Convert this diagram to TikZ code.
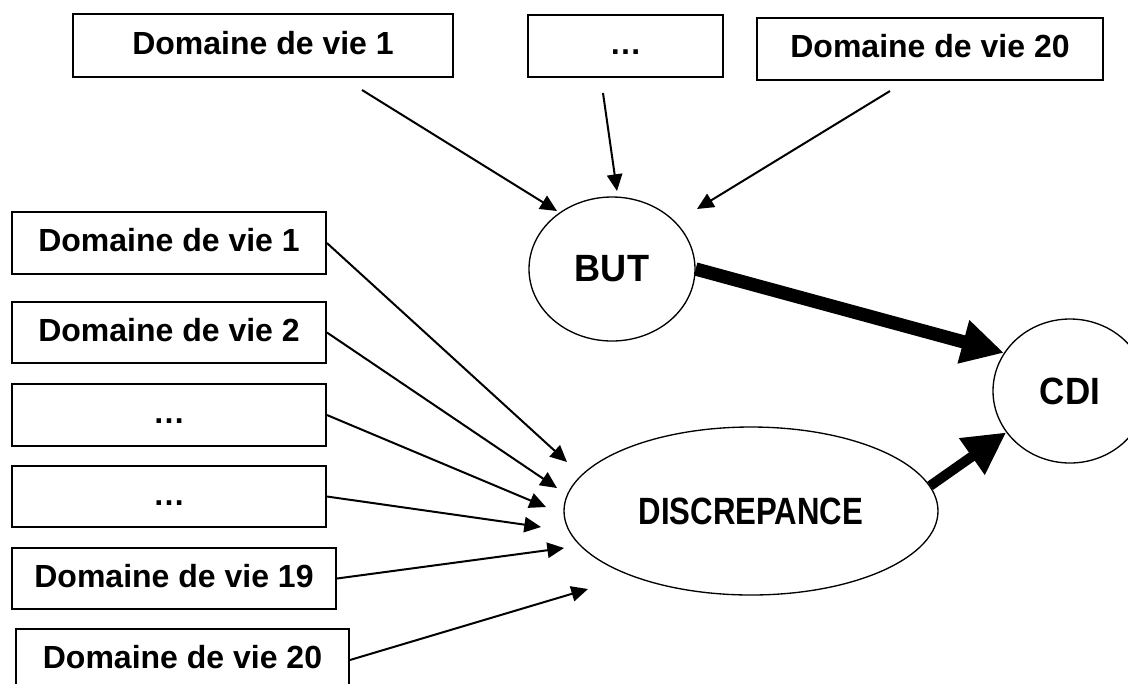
\documentclass[tikz,border=0pt]{standalone}
\usepackage{fontspec}
\setmainfont{Liberation Sans}
\usepackage{graphicx}
\usetikzlibrary{arrows.meta,shapes.geometric}

% one unit = one pixel of a 1128 x 683 canvas, y pointing down
\tikzset{
  size/.style 2 args={minimum width={#1*0.75pt}, minimum height={#2*0.75pt}},
  lifebox/.style={draw, rectangle, line width=1.4pt, inner sep=0pt,
    text height=12.75pt, text depth=0pt,
    font=\bfseries\fontsize{24}{28}\selectfont},
  bubble/.style={draw, ellipse, line width=1pt, inner sep=0pt,
    font=\bfseries\fontsize{28.5}{32}\selectfont},
  feed/.style={line width=1.5pt, -{Triangle[length=12.5pt, width=11.5pt]}},
  push/.style={-{Triangle[length=31.5pt, width=31.5pt]}},
}

\begin{document}
\begin{tikzpicture}[x=0.75pt, y=-0.75pt]
\useasboundingbox (0,0) rectangle (1128,683);
\clip (0,0) rectangle (1128,683);

% life domains feeding the goal
\node[lifebox, size={380}{63}] (tb1) at (263,45.5) {Domaine de vie 1};
\node[lifebox, size={195}{62}] (tb2) at (625.5,46) {…};
\node[lifebox, size={346}{62}] (tb3) at (930,49) {Domaine de vie 20};

% life domains feeding the discrepancy
\node[lifebox, size={314}{62}] (lb1) at (169,243) {Domaine de vie 1};
\node[lifebox, size={314}{61}] (lb2) at (169,332.5) {Domaine de vie 2};
\node[lifebox, size={314}{62}] (lb3) at (169,415) {…};
\node[lifebox, size={314}{61}] (lb4) at (169,496.5) {…};
\node[lifebox, size={324}{61}] (lb5) at (174,578.5) {Domaine de vie 19};
\node[lifebox, size={333}{62}] (lb6) at (182.5,660) {Domaine de vie 20};

% outcome bubbles
\node[bubble, size={166}{144}] (but) at (612,269) {\scalebox{0.95}[1]{BUT}};
\node[bubble, size={154}{144}] (cdi) at (1070,391) {\scalebox{0.92}[1]{CDI}};
\node[bubble, size={374}{168}] (disc) at (751,511) {\scalebox{0.82}[1]{DISCREPANCE}};

% loose ends of the thin connectors
\coordinate (s1) at (362,90);
\coordinate (s2) at (603,93);
\coordinate (s3) at (890,91);
\coordinate (g1) at (557,211);
\coordinate (g2) at (617,191);
\coordinate (g3) at (697,209);
\coordinate (d1) at (567,462);
\coordinate (d2) at (557,488);
\coordinate (d3) at (546,507);
\coordinate (d4) at (541,527);
\coordinate (d5) at (564,548);
\coordinate (d6) at (588,589);

\draw[feed] (s1) -- (g1);
\draw[feed] (s2) -- (g2);
\draw[feed] (s3) -- (g3);

\draw[feed] (lb1.east) -- (d1);
\draw[feed] (lb2.east) -- (d2);
\draw[feed] (lb3.east) -- (d3);
\draw[feed] (lb4.east) -- (d4);
\draw[feed] (lb5.east) -- (d5);
\draw[feed] (lb6.east) -- (d6);

% heavy arrows into CDI
\draw[push, line width=10pt] (but.east) -- (cdi.150);
\draw[push, line width=7.5pt] (disc.8) -- (cdi.213);
\end{tikzpicture}
\end{document}
